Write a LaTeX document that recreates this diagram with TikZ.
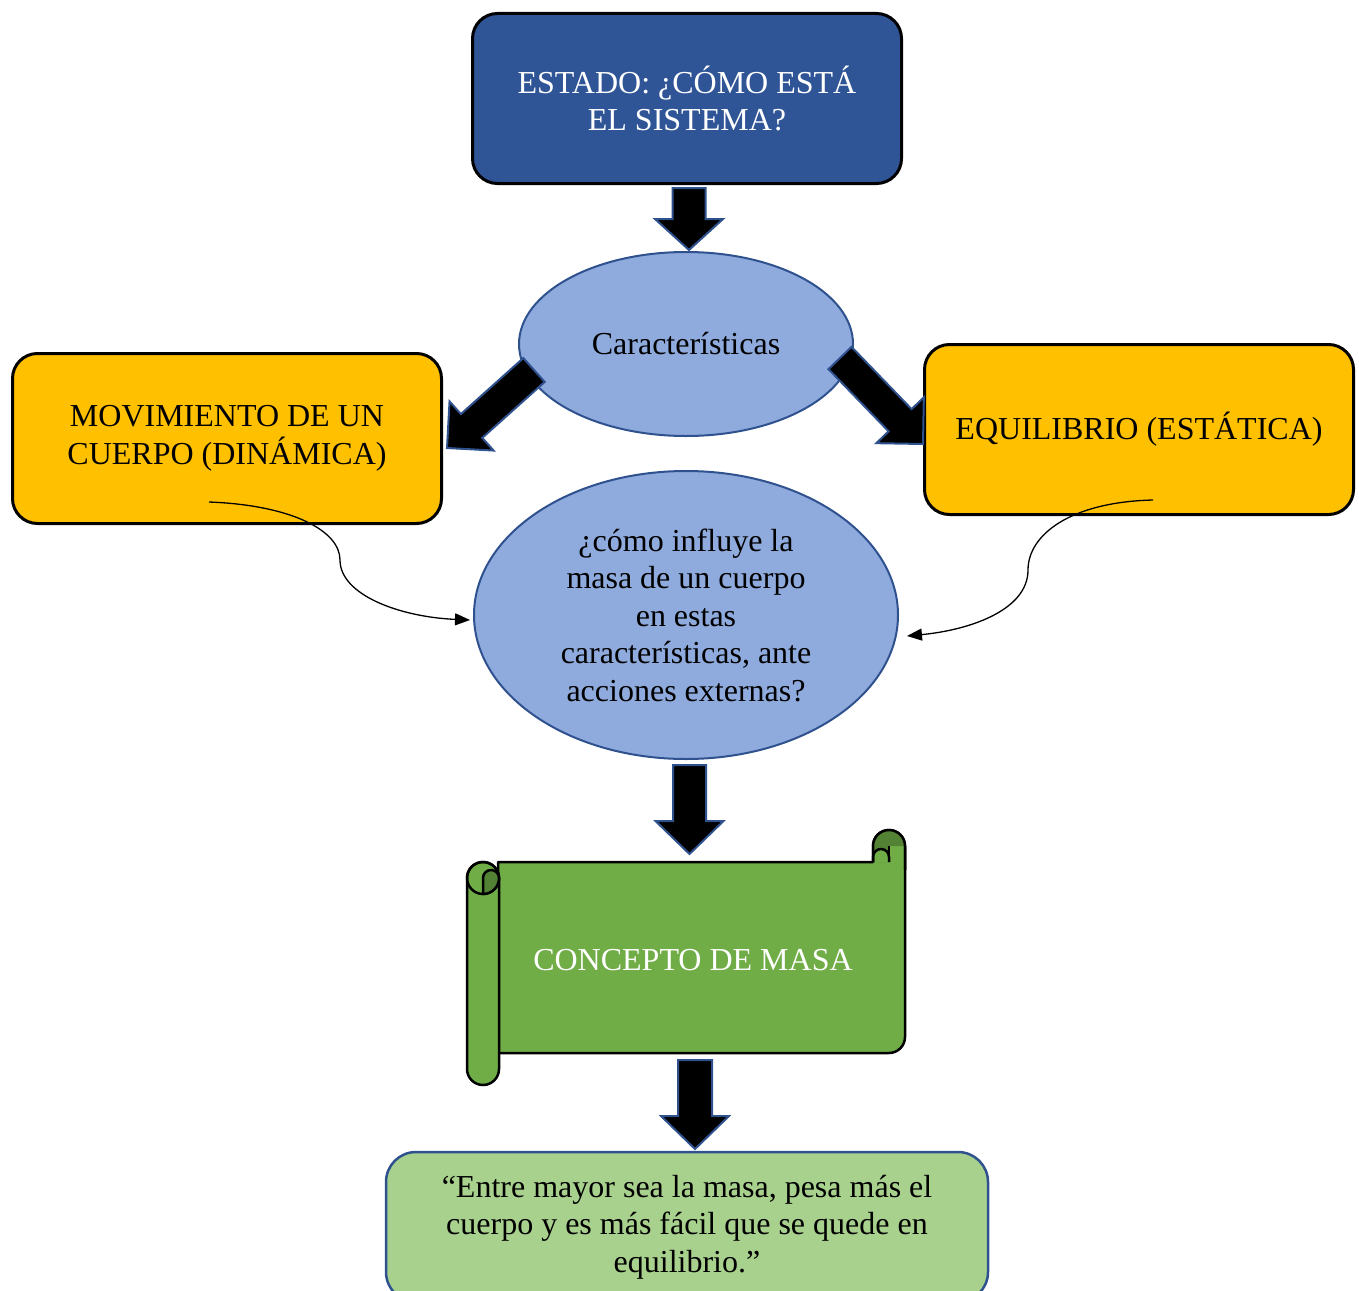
\documentclass[tikz,border=0pt]{standalone}
\usepackage{fontspec}
\setmainfont{Liberation Serif}
\usetikzlibrary{shapes.geometric,arrows.meta,calc}

\definecolor{navy}{HTML}{2F5597}
\definecolor{edgeblue}{HTML}{2F528F}
\definecolor{lightblue}{HTML}{8FAADC}
\definecolor{amber}{HTML}{FFC000}
\definecolor{scrollgreen}{HTML}{70AD47}
\definecolor{curlgreen}{HTML}{548235}
\definecolor{palegreen}{HTML}{A9D18E}

% block arrow: tail, tip, shaft half width, head half width, head length
\newcommand\blockarrow[5]{%
  \coordinate (ba-b) at ($(#2)!#5!(#1)$);
  \filldraw[barrow]
    ($(#1)!#3!90:(#2)$) -- ($(ba-b)!#3!90:(#2)$) -- ($(ba-b)!#4!90:(#2)$)
    -- (#2)
    -- ($(ba-b)!#4!-90:(#2)$) -- ($(ba-b)!#3!-90:(#2)$) -- ($(#1)!#3!-90:(#2)$)
    -- cycle;
}

\tikzset{
  every node/.style={font=\fontsize{32}{37.5}\selectfont, align=center, inner sep=0pt},
  darkbox/.style={rectangle, rounded corners=25pt, draw=black, line width=3pt,
    fill=navy, text=white, minimum width=429pt, minimum height=170pt},
  amberbox/.style={rectangle, rounded corners=25pt, draw=black, line width=3pt,
    fill=amber, text=black, minimum width=429pt, minimum height=170pt},
  bluebubble/.style={ellipse, draw=edgeblue, line width=2pt, fill=lightblue},
  endbox/.style={rectangle, rounded corners=30pt, draw=edgeblue, line width=2.5pt,
    fill=palegreen, minimum width=602pt, minimum height=150pt},
  scrolledge/.style={draw=black, line width=2.5pt, line join=round},
  barrow/.style={fill=black, draw=edgeblue, line width=2pt, line join=miter},
  link/.style={draw=black, line width=1.3pt, -{Triangle[length=15pt,width=12pt]}},
}

\begin{document}
\begin{tikzpicture}[x=1pt,y=1pt]
\useasboundingbox (0,0) rectangle (1359,-1290);
\clip (0,0) rectangle (1359,-1290);

% boxes and bubbles
\node[darkbox] (estado) at (687,-98.5) {ESTADO: ¿CÓMO ESTÁ\\EL SISTEMA?};
\node[bluebubble, minimum width=334pt, minimum height=184pt] (caract) at (686,-344) {Características};
\node[amberbox] (mov) at (227,-438.5) {MOVIMIENTO DE UN\\CUERPO (DINÁMICA)};
\node[amberbox] (equi) at (1139,-429.5) {EQUILIBRIO (ESTÁTICA)};
\node[bluebubble, minimum width=424pt, minimum height=288pt] (pregunta) at (686,-615)
  {¿cómo influye la\\masa de un cuerpo\\en estas\\características, ante\\acciones externas?};

% horizontal scroll
\filldraw[scrolledge, fill=scrollgreen]
  (498,-862) -- (873,-862) -- (873,-846) arc[start angle=180, end angle=0, radius=16]
  -- (905,-1037) arc[start angle=0, end angle=-90, radius=16] -- (498,-1053) -- cycle;
\fill[curlgreen] (873,-862) -- (873,-846) arc[start angle=180, end angle=0, radius=16]
  -- (889,-846) -- (889,-862) -- cycle;
\filldraw[scrolledge, fill=scrollgreen]
  (873,-862) -- (873,-857) arc[start angle=180, end angle=0, radius=8] -- (889,-862);
\draw[scrolledge] (889,-846) -- (889,-862);
\draw[scrolledge] (873,-862) -- (873,-846) arc[start angle=180, end angle=0, radius=16] -- (905,-870);
\filldraw[scrolledge, fill=scrollgreen]
  (467,-878) -- (467,-1069) arc[start angle=180, end angle=360, radius=16]
  -- (499,-878) arc[start angle=0, end angle=180, radius=16] -- cycle;
\draw[scrolledge] (483,-878) circle[radius=16];
\filldraw[scrolledge, fill=curlgreen]
  (483,-894) -- (483,-878) arc[start angle=180, end angle=0, radius=8]
  arc[start angle=0, end angle=-90, radius=16] -- cycle;
\node[text=white] (concepto) at (693,-960) {CONCEPTO DE MASA};

\node[endbox] (frase) at (687,-1227)
  {“Entre mayor sea la masa, pesa más el\\cuerpo y es más fácil que se quede en\\equilibrio.”};

% curved connectors
\coordinate (movsrc) at (209,-502);
\coordinate (movdst) at (470,-620);
\coordinate (equisrc) at (1153,-500);
\coordinate (equidst) at (907,-636);
\draw[link] (movsrc) .. controls (290,-505) and (340,-530) .. (340,-560)
  .. controls (340,-595) and (400,-617) .. (movdst);
\draw[link] (equisrc) .. controls (1070,-502) and (1028,-535) .. (1028,-570)
  .. controls (1028,-610) and (970,-630) .. (equidst);

% block arrows
\coordinate (a1t) at (689,-188);   \coordinate (a1h) at (689,-250);
\coordinate (a2t) at (534,-370);   \coordinate (a2h) at (447,-448);
\coordinate (a3t) at (840,-358);   \coordinate (a3h) at (923,-444);
\coordinate (a4t) at (689.5,-765); \coordinate (a4h) at (689.5,-854);
\coordinate (a5t) at (695,-1060);  \coordinate (a5h) at (695,-1149);
\blockarrow{a1t}{a1h}{16.5pt}{34pt}{31pt}
\blockarrow{a2t}{a2h}{16pt}{33pt}{33pt}
\blockarrow{a3t}{a3h}{16pt}{33pt}{33pt}
\blockarrow{a4t}{a4h}{16.5pt}{34pt}{33pt}
\blockarrow{a5t}{a5h}{17pt}{34pt}{33pt}
\end{tikzpicture}
\end{document}
